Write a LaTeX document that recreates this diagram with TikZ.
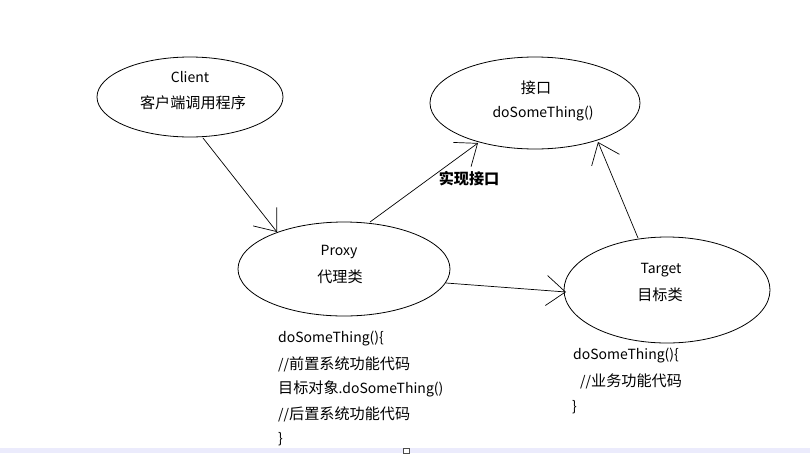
\documentclass[tikz,border=0pt]{standalone}
\usepackage{fontspec}
\setmainfont{Noto Sans CJK SC}
\newfontfamily\cjk[Scale=1.08]{Noto Sans CJK SC}
\usetikzlibrary{arrows.meta}
\tikzset{
  conn/.style={draw=black, line width=0.7pt, -{Straight Barb[length=19pt,width=30pt,line width=0.7pt]}},
  txt/.style={font=\fontsize{14}{16}\selectfont, inner sep=0pt, anchor=center},
  code/.style={font=\fontsize{14}{16}\selectfont, inner sep=0pt, anchor=west},
}
\begin{document}
\begin{tikzpicture}[x=1pt,y=-1pt]
\useasboundingbox (0,0) rectangle (810,453);
\fill[white] (0,0) rectangle (810,453);
% ellipses
\draw[line width=0.8pt] (190,97) ellipse [x radius=93, y radius=40];
\draw[line width=0.8pt] (535,103) ellipse [x radius=105, y radius=46];
\draw[line width=0.8pt] (344,269) ellipse [x radius=106, y radius=47];
\draw[line width=0.8pt] (667,290) ellipse [x radius=103, y radius=53];
% texts
\node[txt] (client) at (190,77) {Client};
\node[txt] (clientcn) at (193,103) {\cjk 客户端调用程序};
\node[txt] (iface) at (536,88) {\cjk 接口};
\node[txt] (ifacem) at (543,114) {doSomeThing()};
\node[txt] (proxy) at (339,252) {Proxy};
\node[txt] (proxycn) at (340,277) {\cjk 代理类};
\node[txt] (target) at (661,270) {Target};
\node[txt] (targetcn) at (660,295) {\cjk 目标类};
\node[txt] (impl) at (469,179) {\cjk\bfseries 实现接口};
% anchor coordinates on ellipse borders
\coordinate (c1) at (203,138);
\coordinate (p1) at (277,232);
\coordinate (p2) at (370,222);
\coordinate (i1) at (478,143);
\coordinate (p3) at (446,283);
\coordinate (t1) at (566,292);
\coordinate (t2) at (638,238);
\coordinate (i2) at (598,142);
\draw[conn] (c1) -- (p1);
\draw[conn] (p2) -- (i1);
\draw[conn] (p3) -- (t1);
\draw[conn] (t2) -- (i2);
% code blocks
\node[code] (pc1) at (278,339) {doSomeThing()\{};
\node[code] (pc2) at (278,364) {//{\cjk 前置系统功能代码}};
\node[code] (pc3) at (278,389) {{\cjk 目标对象}.doSomeThing()};
\node[code] (pc4) at (278,414) {//{\cjk 后置系统功能代码}};
\node[code] (pc5) at (278,439) {\}};
\node[code] (tc1) at (573,356) {doSomeThing()\{};
\node[code] (tc2) at (580,381) {//{\cjk 业务功能代码}};
\node[code] (tc3) at (572,407) {\}};
% bottom bar
\fill[black!15!blue!8!white] (0,448) rectangle (810,453);
\draw[black!70, fill=white, line width=0.6pt] (403,448) rectangle (409,453);
\end{tikzpicture}
\end{document}
